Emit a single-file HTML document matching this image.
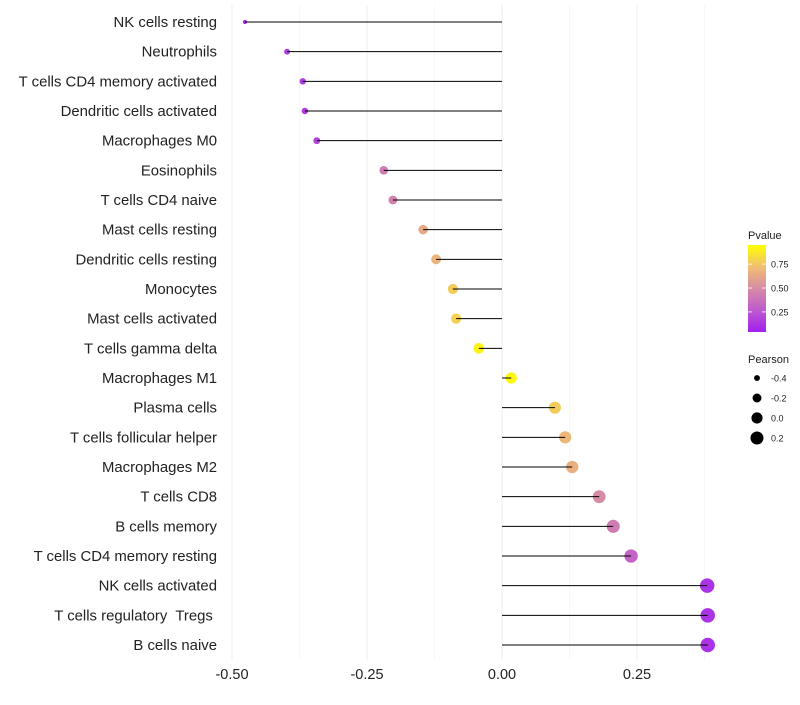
<!DOCTYPE html>
<html><head><meta charset="utf-8"><style>
body{margin:0;background:#fff;font-family:"Liberation Sans",sans-serif;}
</style></head><body>
<svg id="chart" width="800" height="700" xmlns="http://www.w3.org/2000/svg" font-family="Liberation Sans, sans-serif"></svg>
<script>
const categories=["NK cells resting","Neutrophils","T cells CD4 memory activated","Dendritic cells activated","Macrophages M0","Eosinophils","T cells CD4 naive","Mast cells resting","Dendritic cells resting","Monocytes","Mast cells activated","T cells gamma delta","Macrophages M1","Plasma cells","T cells follicular helper","Macrophages M2","T cells CD8","B cells memory","T cells CD4 memory resting","NK cells activated","T cells regulatory\u00a0 Tregs\u00a0","B cells naive"];
const pearson=[-0.476,-0.398,-0.369,-0.365,-0.343,-0.219,-0.202,-0.146,-0.122,-0.091,-0.085,-0.043,0.017,0.098,0.117,0.130,0.180,0.206,0.239,0.380,0.381,0.381];
const pvalue=[0.05,0.12,0.12,0.12,0.15,0.42,0.45,0.65,0.7,0.8,0.82,0.95,0.97,0.8,0.72,0.68,0.5,0.42,0.3,0.08,0.08,0.08];
const xTicks=[-0.5,-0.25,0,0.25];
const xTickLabels=["-0.50","-0.25","0.00","0.25"];
const pTicks=[0.25,0.5,0.75];
const sizeTicks=[-0.4,-0.2,0.0,0.2];
const NS="http://www.w3.org/2000/svg";
const svg=document.getElementById('chart');
function mk(t,a){const e=document.createElementNS(NS,t);for(const k in a)e.setAttribute(k,a[k]);return e;}
const x=v=>502+v*540;
const y=i=>22+i*(623/21);
const r=v=>Math.sqrt(3+ (v+0.5)*56);
const stops=[[0,[160,32,240]],[0.25,[190,90,205]],[0.5,[215,140,165]],[0.75,[240,190,115]],[1,[255,255,0]]];
function col(p){for(let i=1;i<stops.length;i++){if(p<=stops[i][0]){const a=stops[i-1],b=stops[i],t=(p-a[0])/(b[0]-a[0]);return 'rgb('+a[1].map((c,k)=>Math.round(c+(b[1][k]-c)*t)).join(',')+')';}}return 'rgb(255,255,0)';}
[-0.375,-0.125,0.125,0.375].forEach(v=>{const g=mk('line',{x1:x(v),x2:x(v),y1:5,y2:660,stroke:'#f5f5f5','stroke-width':0.8});svg.appendChild(g);});
xTicks.forEach((v,i)=>{const g=mk('line',{x1:x(v),x2:x(v),y1:5,y2:660,stroke:'#efefef','stroke-width':1.2});svg.appendChild(g);
const t=mk('text',{x:x(v),y:679,'text-anchor':'middle','font-size':14.5,fill:'#222'});t.textContent=xTickLabels[i];svg.appendChild(t);});
categories.forEach((c,i)=>{
const t=mk('text',{x:217,y:y(i)+5,'text-anchor':'end','font-size':14.9,fill:'#222'});t.textContent=c;svg.appendChild(t);
const d=mk('circle',{cx:x(pearson[i]),cy:y(i),r:r(pearson[i]),fill:col(pvalue[i])});svg.appendChild(d);
const l=mk('line',{x1:x(0),x2:x(pearson[i]),y1:y(i),y2:y(i),stroke:'#000','stroke-width':1});svg.appendChild(l);
});
const lt=mk('text',{x:748,y:239,'font-size':11,fill:'#222'});lt.textContent='Pvalue';svg.appendChild(lt);
const defs=mk('defs',{});const gr=mk('linearGradient',{id:'pg',x1:0,y1:1,x2:0,y2:0});
stops.forEach(s=>gr.appendChild(mk('stop',{offset:s[0],'stop-color':col(s[0])})));defs.appendChild(gr);svg.appendChild(defs);
const py=p=>332-(p-0.04)*(87/0.91);
const bar=mk('rect',{x:748,y:245,width:18,height:87,fill:'url(#pg)'});svg.appendChild(bar);
pTicks.forEach(p=>{const t=mk('text',{x:771,y:py(p)+3.5,'font-size':9,fill:'#222'});t.textContent=p.toFixed(2);svg.appendChild(t);
[748,762].forEach(xx=>svg.appendChild(mk('line',{x1:xx,x2:xx+4,y1:py(p),y2:py(p),stroke:'#fff','stroke-width':0.8})));});
const st=mk('text',{x:748,y:363,'font-size':11,fill:'#222'});st.textContent='Pearson';svg.appendChild(st);
sizeTicks.forEach((v,i)=>{const cy=378+i*20;const c=mk('circle',{cx:757,cy:cy,r:r(v),fill:'#000'});svg.appendChild(c);
const t=mk('text',{x:771,y:cy+3.5,'font-size':9,fill:'#222'});t.textContent=v.toFixed(1);svg.appendChild(t);});
</script>
</body></html>
